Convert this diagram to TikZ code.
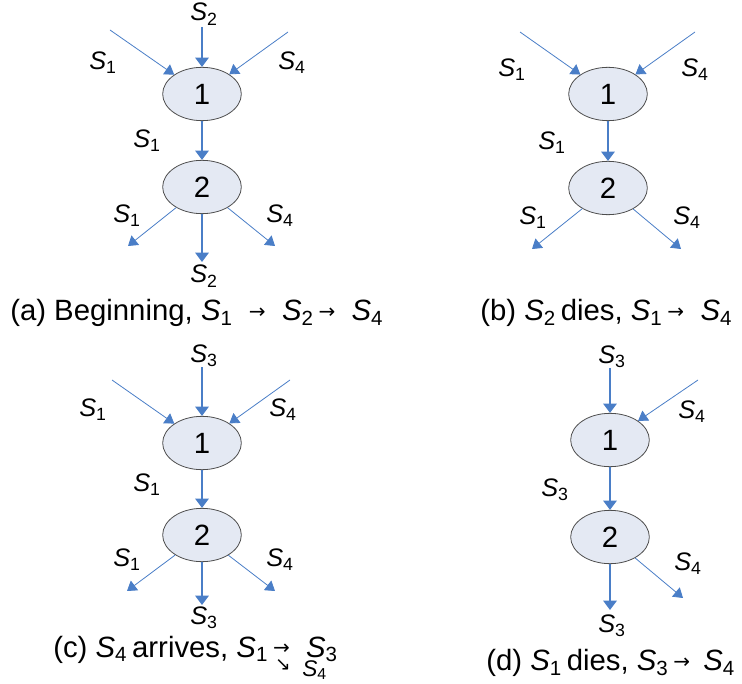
\documentclass[tikz,border=0pt]{standalone}
\usepackage{fontspec}
\setmainfont{Liberation Sans}
\newfontfamily\arrowfont{DejaVu Sans}
\usepackage{tikz}
\usetikzlibrary{arrows.meta,shapes.geometric,positioning}
\definecolor{flowBlue}{HTML}{4A7EC7}
\definecolor{stationFill}{HTML}{E4E9F3}
\definecolor{stationRim}{HTML}{4D4D4D}
\newcommand{\sv}[1]{\textit{S}\textsubscript{#1}}
\newcommand{\rarr}{{\arrowfont\fontsize{15}{15}\selectfont\raisebox{.2ex}{→}}}
\newcommand{\drarr}{{\arrowfont\fontsize{14}{14}\selectfont ↘}}

\begin{document}
\begin{tikzpicture}[
  x=.75pt,y=-.75pt,
  station/.style={ellipse,draw=stationRim,line width=.6pt,fill=stationFill,
    minimum width=59pt,minimum height=40pt,inner sep=0pt,
    font=\fontsize{22}{22}\selectfont},
  flow/.style={draw=flowBlue,line width=1.5pt,-{Triangle[length=7pt,width=10pt]}},
  side/.style={draw=flowBlue,line width=.6pt,-{Triangle[length=7pt,width=9pt]}},
  lbl/.style={font=\fontsize{19}{19}\selectfont,inner sep=0pt},
  captext/.style={font=\fontsize{22}{22}\selectfont,anchor=west,inner sep=0pt}
]
  \useasboundingbox (0,0) rectangle (742,684);

  % (a) beginning
  \node[station] (a1) at (202,94) {1};
  \node[station] (a2) at (202,187) {2};
  \coordinate (a-inL) at (110,30);
  \coordinate (a-inM) at (202,27);
  \coordinate (a-inR) at (288,32);
  \coordinate (a-outL) at (128,246);
  \coordinate (a-outM) at (202,262);
  \coordinate (a-outR) at (275,246);
  \draw[side] (a-inL) -- (a1);
  \draw[flow] (a-inM) -- (a1);
  \draw[side] (a-inR) -- (a1);
  \draw[flow] (a1) -- (a2);
  \draw[side] (a2) -- (a-outL);
  \draw[flow] (a2) -- (a-outM);
  \draw[side] (a2) -- (a-outR);
  \node[lbl] (a-l1) at (103,63) {\sv1};
  \node[lbl] (a-l2) at (204,14) {\sv2};
  \node[lbl] (a-l4) at (292,63) {\sv4};
  \node[lbl] (a-l5) at (147,141) {\sv1};
  \node[lbl] (a-l6) at (127,216) {\sv1};
  \node[lbl] (a-l7) at (280,216) {\sv4};
  \node[lbl] (a-l8) at (204,276) {\sv2};
  \node[captext] (a-cap) at (10,313) {(a) Beginning, \sv1\ \ \rarr\ \ \sv2\,\rarr\ \ \sv4};

  % (b) S2 dies
  \node[station] (b1) at (608,94) {1};
  \node[station] (b2) at (608,188) {2};
  \coordinate (b-inL) at (520,32);
  \coordinate (b-inR) at (695,32);
  \coordinate (b-outL) at (532,249);
  \coordinate (b-outR) at (681,249);
  \draw[side] (b-inL) -- (b1);
  \draw[side] (b-inR) -- (b1);
  \draw[flow] (b1) -- (b2);
  \draw[side] (b2) -- (b-outL);
  \draw[side] (b2) -- (b-outR);
  \node[lbl] (b-l1) at (512,70) {\sv1};
  \node[lbl] (b-l4) at (695,70) {\sv4};
  \node[lbl] (b-l5) at (552,143) {\sv1};
  \node[lbl] (b-l6) at (533,218) {\sv1};
  \node[lbl] (b-l7) at (687,218) {\sv4};
  \node[captext] (b-cap) at (480,313) {(b) \sv2\,dies, \sv1\,\rarr\ \ \sv4};

  % (c) S4 arrives
  \node[station] (c1) at (202,443) {1};
  \node[station] (c2) at (202,535) {2};
  \coordinate (c-inL) at (112,380);
  \coordinate (c-inM) at (202,367);
  \coordinate (c-inR) at (290,380);
  \coordinate (c-outL) at (127,591);
  \coordinate (c-outM) at (202,605);
  \coordinate (c-outR) at (275,591);
  \draw[side] (c-inL) -- (c1);
  \draw[flow] (c-inM) -- (c1);
  \draw[side] (c-inR) -- (c1);
  \draw[flow] (c1) -- (c2);
  \draw[side] (c2) -- (c-outL);
  \draw[flow] (c2) -- (c-outM);
  \draw[side] (c2) -- (c-outR);
  \node[lbl] (c-l1) at (93,410) {\sv1};
  \node[lbl] (c-l2) at (204,356) {\sv3};
  \node[lbl] (c-l4) at (283,410) {\sv4};
  \node[lbl] (c-l5) at (147,485) {\sv1};
  \node[lbl] (c-l6) at (127,560) {\sv1};
  \node[lbl] (c-l7) at (280,560) {\sv4};
  \node[lbl] (c-l8) at (204,618) {\sv3};
  \node[captext,anchor=base west] (c-cap) at (53,657) {(c) \sv4\,arrives, \sv1\,\rarr\ \ \sv3};
  \node[inner sep=0pt] (c-dn) at (283,665) {\drarr};
  \node[lbl,anchor=base west,font=\fontsize{17}{17}\selectfont] (c-s4) at (302,676) {\sv4};

  % (d) S1 dies
  \node[station] (d1) at (610,440) {1};
  \node[station] (d2) at (610,537) {2};
  \coordinate (d-inM) at (610,368);
  \coordinate (d-inR) at (698,380);
  \coordinate (d-outM) at (610,610);
  \coordinate (d-outR) at (683,598);
  \draw[flow] (d-inM) -- (d1);
  \draw[side] (d-inR) -- (d1);
  \draw[flow] (d1) -- (d2);
  \draw[flow] (d2) -- (d-outM);
  \draw[side] (d2) -- (d-outR);
  \node[lbl] (d-l2) at (612,357) {\sv3};
  \node[lbl] (d-l4) at (692,412) {\sv4};
  \node[lbl] (d-l5) at (555,490) {\sv3};
  \node[lbl] (d-l7) at (688,564) {\sv4};
  \node[lbl] (d-l8) at (612,626) {\sv3};
  \node[captext] (d-cap) at (486,663) {(d) \sv1\,dies, \sv3\,\rarr\hspace{.45em}\sv4};
\end{tikzpicture}
\end{document}
